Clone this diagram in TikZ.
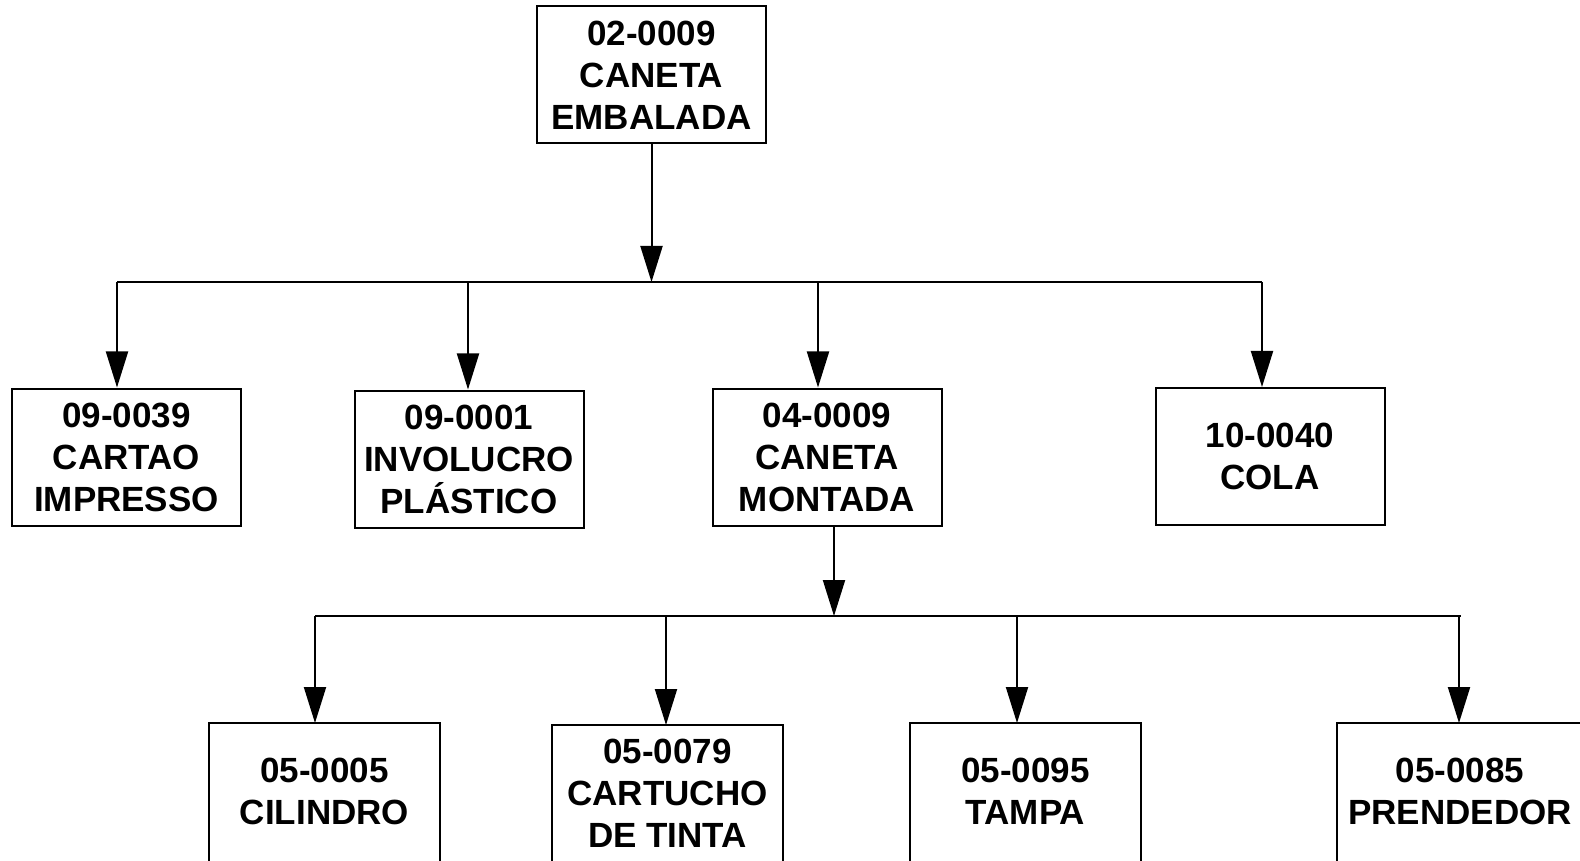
\documentclass[tikz,border=0pt]{standalone}
\usepackage{fontspec}
\setmainfont{Liberation Sans}
\usetikzlibrary{arrows.meta}
\begin{document}
\begin{tikzpicture}[x=0.5pt,y=-0.5pt,
  itembox/.style={draw, line width=1pt, fill=white, inner sep=0pt,
    minimum width=114.5pt, minimum height=68.5pt, align=center,
    font=\bfseries\fontsize{17.5}{21}\selectfont},
  lowbox/.style={itembox, draw=none, minimum height=67pt},
  link/.style={line width=1pt},
  arr/.style={link, -{Triangle[width=11pt,length=18pt]}}]
\useasboundingbox (0,0) rectangle (1580,861);
\clip (0,0) rectangle (1580,861);

% product at the top of the tree
\node[itembox] (embalada) at (651.5,75) {02-0009\\CANETA\\EMBALADA};

% first level components
\node[itembox] (cartao) at (126.5,457) {09-0039\\CARTAO\\IMPRESSO};
\node[itembox] (involucro) at (469,459) {09-0001\\INVOLUCRO\\PLÁSTICO};
\node[itembox] (montada) at (827,457) {04-0009\\CANETA\\MONTADA};
\node[itembox] (cola) at (1270,456.5) {10-0040\\COLA};

% second level components (their boxes run past the lower edge)
\node[lowbox] (cilindro) at (324.5,791) {05-0005\\CILINDRO};
\node[lowbox] (cartucho) at (667.5,793) {05-0079\\CARTUCHO\\DE TINTA};
\node[lowbox] (tampa) at (1025.5,791) {05-0095\\TAMPA};
\node[lowbox, minimum width=122pt] (prendedor) at (1460,791) {05-0085\\PRENDEDOR};
\foreach \n in {cilindro,cartucho,tampa,prendedor}
  \draw[link] (\n.north west) rectangle ([yshift=-20pt]\n.south east);

% bus below the packed pen
\coordinate (busA) at (117,282);
\coordinate (busB) at (1262,282);
\coordinate (dropA2) at (468,282);
\coordinate (dropA3) at (818,282);
\draw[link] (busA) -- (busB);
\draw[arr] (embalada.south) -- (embalada.south |- busA);
\draw[arr] (busA) -- (busA |- cartao.north);
\draw[arr] (dropA2) -- (dropA2 |- involucro.north);
\draw[arr] (dropA3) -- (dropA3 |- montada.north);
\draw[arr] (busB) -- (busB |- cola.north);

% bus below the assembled pen
\coordinate (montOut) at (834,526);
\coordinate (busC) at (315,616);
\coordinate (busD) at (1461,616);
\coordinate (dropC2) at (666,616);
\coordinate (dropC3) at (1017,616);
\coordinate (dropC4) at (1459,616);
\draw[link] (busC) -- (busD);
\draw[arr] (montOut) -- (montOut |- busC);
\draw[arr] (busC) -- (busC |- cilindro.north);
\draw[arr] (dropC2) -- (dropC2 |- cartucho.north);
\draw[arr] (dropC3) -- (dropC3 |- tampa.north);
\draw[arr] (dropC4) -- (dropC4 |- prendedor.north);
\end{tikzpicture}
\end{document}
